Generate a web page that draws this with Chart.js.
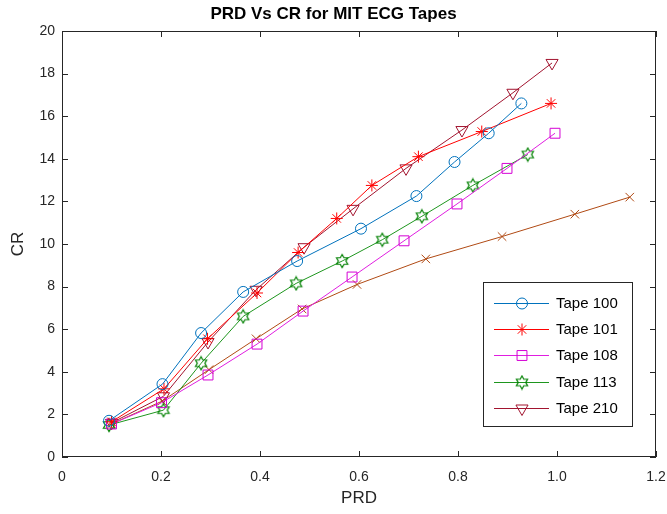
<!DOCTYPE html>
<html>
<head>
<meta charset="utf-8">
<script src="https://cdn.jsdelivr.net/npm/chart.js@4.4.1/dist/chart.umd.min.js"></script>
<style>
	html, body { margin: 0; padding: 0; background: #fff; }
</style>
</head>
<body>
<canvas id="grafico" width="667" height="514"></canvas>
<script>
// valores
const tapes = ['Tape 100', 'Tape 101', 'Tape 108', 'Tape 113', 'Tape 210'];

const prd100 = [0.095, 0.203, 0.281, 0.366, 0.475, 0.604, 0.716, 0.793, 0.862, 0.928];
const cr100 = [1.7, 3.42, 5.82, 7.75, 9.2, 10.72, 12.25, 13.85, 15.2, 16.6];

const prd101 = [0.1, 0.206, 0.294, 0.394, 0.477, 0.555, 0.626, 0.72, 0.848, 0.988];
const cr101 = [1.65, 3.2, 5.55, 7.7, 9.6, 11.2, 12.75, 14.1, 15.28, 16.6];

const prd108 = [0.1, 0.201, 0.295, 0.394, 0.487, 0.586, 0.691, 0.798, 0.899, 0.996];
const cr108 = [1.55, 2.55, 3.85, 5.3, 6.85, 8.45, 10.15, 11.88, 13.55, 15.2];

const prd113 = [0.095, 0.205, 0.281, 0.366, 0.473, 0.566, 0.647, 0.727, 0.83, 0.941];
const cr113 = [1.5, 2.2, 4.4, 6.6, 8.15, 9.2, 10.2, 11.3, 12.75, 14.2];

const prd210 = [0.1, 0.205, 0.295, 0.392, 0.489, 0.588, 0.695, 0.808, 0.911, 0.99];
const cr210 = [1.6, 2.85, 5.4, 7.85, 9.85, 11.65, 13.55, 15.35, 17.1, 18.5];

// serie sem legenda (marrom, marcador x)
const prdExtra = [0.1, 0.202, 0.297, 0.392, 0.485, 0.596, 0.735, 0.889, 1.036, 1.147];
const crExtra = [1.55, 2.62, 4.1, 5.55, 6.95, 8.1, 9.3, 10.35, 11.4, 12.2];

const xTicks = [0, 0.2, 0.4, 0.6, 0.8, 1, 1.2];
const yTicks = [0, 2, 4, 6, 8, 10, 12, 14, 16, 18, 20];

const fonte = 'Liberation Sans, Arial, sans-serif';

function hexagrama(cor) {
	const c = document.createElement('canvas');
	c.width = 16;
	c.height = 16;
	const ctx = c.getContext('2d');
	const R = 6.5, r = R / Math.sqrt(3);
	ctx.beginPath();
	for (let i = 0; i < 12; i++) {
		const ang = -Math.PI / 2 + i * Math.PI / 6;
		const rad = i % 2 === 0 ? R : r;
		const px = 8 + rad * Math.cos(ang), py = 8 + rad * Math.sin(ang);
		if (i === 0) ctx.moveTo(px, py); else ctx.lineTo(px, py);
	}
	ctx.closePath();
	ctx.strokeStyle = cor;
	ctx.lineWidth = 1.2;
	ctx.stroke();
	return c;
}

function pontos(xs, ys) {
	return xs.map((x, i) => ({ x: x, y: ys[i] }));
}

const series = [
	{ label: tapes[0], xs: prd100, ys: cr100, cor: '#0072BD', marca: '#0072BD', estilo: 'circle', raio: 5.5, rot: 0 },
	{ label: tapes[1], xs: prd101, ys: cr101, cor: '#FF0000', marca: '#FF0000', estilo: 'star', raio: 6, rot: 0 },
	{ label: tapes[2], xs: prd108, ys: cr108, cor: '#E01EE0', marca: '#D400D4', estilo: 'rect', raio: 7, rot: 0 },
	{ label: tapes[3], xs: prd113, ys: cr113, cor: '#1E961E', marca: '#008000', estilo: hexagrama('#008000'), raio: 6, rot: 0 },
	{ label: tapes[4], xs: prd210, ys: cr210, cor: '#A2142F', marca: '#A2142F', estilo: 'triangle', raio: 7, rot: 180 },
	{ label: '', xs: prdExtra, ys: crExtra, cor: '#B04A14', marca: '#B04A14', estilo: 'crossRot', raio: 6, rot: 0 },
];

const moldura = {
	id: 'moldura',
	afterDatasetsDraw(chart) {
		const { ctx, chartArea: a, scales } = chart;
		ctx.save();
		ctx.strokeStyle = '#262626';
		ctx.lineWidth = 1;
		ctx.strokeRect(a.left + 0.5, a.top + 0.5, a.right - a.left - 1, a.bottom - a.top - 1);
		ctx.beginPath();
		xTicks.forEach(v => {
			const px = Math.round(scales.x.getPixelForValue(v)) + 0.5;
			ctx.moveTo(px, a.bottom); ctx.lineTo(px, a.bottom - 6);
			ctx.moveTo(px, a.top); ctx.lineTo(px, a.top + 6);
		});
		yTicks.forEach(v => {
			const py = Math.round(scales.y.getPixelForValue(v)) + 0.5;
			ctx.moveTo(a.left, py); ctx.lineTo(a.left + 6, py);
			ctx.moveTo(a.right, py); ctx.lineTo(a.right - 6, py);
		});
		ctx.stroke();

		// legenda dentro da area
		const bx = 483, by = 282, bw = 149, bh = 144;
		ctx.fillStyle = '#fff';
		ctx.fillRect(bx, by, bw, bh);
		ctx.strokeStyle = '#262626';
		ctx.strokeRect(bx + 0.5, by + 0.5, bw, bh);
		const linhas = [303, 329, 355, 382, 408];
		ctx.font = '15px ' + fonte;
		ctx.textBaseline = 'middle';
		series.slice(0, 5).forEach((s, i) => {
			const y = linhas[i];
			ctx.strokeStyle = s.cor;
			ctx.lineWidth = 1;
			ctx.beginPath();
			ctx.moveTo(494, y + 0.5);
			ctx.lineTo(549, y + 0.5);
			ctx.stroke();
			ctx.strokeStyle = s.marca;
			ctx.fillStyle = 'rgba(0,0,0,0)';
			Chart.helpers.drawPoint(ctx, { pointStyle: s.estilo, radius: s.raio, rotation: s.rot, borderWidth: 1 }, 522, y + 0.5);
			ctx.fillStyle = '#000';
			ctx.fillText(s.label, 556, y + 1);
		});
		ctx.restore();
	},
};

new Chart(document.getElementById('grafico'), {
	type: 'line',
	data: {
		datasets: series.map(s => ({
			label: s.label,
			data: pontos(s.xs, s.ys),
			borderColor: s.cor,
			borderWidth: 1,
			pointStyle: s.estilo,
			pointRadius: s.raio,
			pointRotation: s.rot,
			pointBorderColor: s.marca,
			pointBackgroundColor: 'rgba(0,0,0,0)',
			pointBorderWidth: 1,
			fill: false,
			tension: 0,
		})),
	},
	options: {
		responsive: false,
		animation: false,
		layout: {
			padding: { left: 0, right: 0, top: 0, bottom: 0 },
		},
		plugins: {
			legend: { display: false },
			tooltip: { enabled: false },
			title: {
				display: true,
				text: 'PRD Vs CR for MIT ECG Tapes',
				color: '#000',
				font: { family: fonte, size: 17, weight: 'bold' },
				padding: { top: 4, bottom: 6.6 },
			},
		},
		scales: {
			x: {
				type: 'linear',
				min: 0,
				max: 1.2,
				afterBuildTicks: scale => { scale.ticks = xTicks.map(v => ({ value: v })); },
				afterFit: scale => {
					scale.height = 57;
					scale.paddingLeft = 0;
					scale.paddingRight = 11;
				},
				grid: { display: false, drawTicks: false },
				border: { display: false },
				ticks: {
					color: '#262626',
					padding: 12,
					font: { family: fonte, size: 14 },
				},
				title: {
					display: true,
					text: 'PRD',
					color: '#262626',
					font: { family: fonte, size: 17 },
					padding: { top: 0, bottom: 5 },
				},
			},
			y: {
				min: 0,
				max: 20,
				afterBuildTicks: scale => { scale.ticks = yTicks.map(v => ({ value: v })); },
				afterFit: scale => { scale.width = 62; },
				grid: { display: false, drawTicks: false },
				border: { display: false },
				ticks: {
					color: '#262626',
					padding: 7,
					font: { family: fonte, size: 14 },
				},
				title: {
					display: true,
					text: 'CR',
					color: '#262626',
					font: { family: fonte, size: 17 },
					padding: { top: 8, bottom: 0 },
				},
			},
		},
	},
	plugins: [moldura],
});
</script>
</body>
</html>
